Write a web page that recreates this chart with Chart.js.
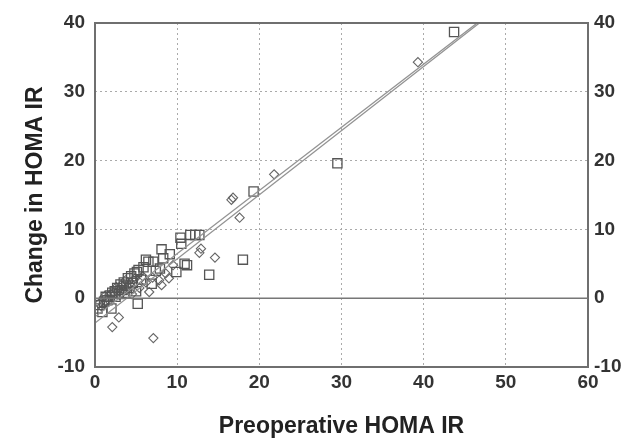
<!DOCTYPE html>
<html>
<head>
<meta charset="utf-8">
<script src="https://cdn.jsdelivr.net/npm/chart.js@4"></script>
<style>
  html, body { margin: 0; padding: 0; background: #fff; }
  #wrap { width: 625px; height: 441px; }
</style>
</head>
<body>
<div id="wrap"><canvas id="homaGraph"></canvas></div>
<script>
// data
const squareX = [0.3, 0.6, 0.9, 1.1, 1.3, 1.5, 1.8, 2.0, 2.1, 2.4, 2.5, 2.7, 2.9, 3.1, 3.3, 3.5, 3.6, 3.8, 4.0, 4.2, 4.4, 4.6, 4.8, 5.0, 5.1, 5.2, 5.3, 5.6, 5.9, 6.2, 6.5, 6.9, 7.1, 7.4, 7.9, 8.1, 8.3, 9.1, 9.9, 10.4, 10.5, 10.9, 11.2, 11.6, 12.2, 12.7, 13.9, 18.0, 19.3, 29.5, 43.7];
const squareY = [-1.5, -1.0, -2.0, -0.5, 0.2, -0.3, 0.4, -1.5, 0.8, 1.0, 0.2, 1.5, 0.6, 2.0, 1.2, 2.3, 0.8, 1.8, 2.9, 1.5, 3.2, 2.2, 3.6, 1.0, 3.8, -0.8, 4.1, 2.7, 4.5, 5.6, 5.3, 2.1, 5.3, 4.0, 4.3, 7.1, 5.8, 6.4, 3.8, 8.8, 7.9, 5.0, 4.8, 9.2, 9.2, 9.2, 3.4, 5.6, 15.5, 19.6, 38.7];
const diamondX = [0.5, 0.8, 1.2, 1.6, 1.9, 2.1, 2.3, 2.6, 2.9, 3.0, 3.2, 3.5, 3.7, 4.0, 4.3, 4.5, 4.9, 5.4, 5.8, 6.2, 6.6, 7.0, 7.1, 7.8, 8.1, 8.6, 9.0, 9.5, 12.7, 12.9, 14.6, 16.6, 16.8, 17.6, 21.8, 39.3];
const diamondY = [-0.8, -1.2, 0.3, -0.2, 0.6, -4.2, 0.9, 1.6, -2.8, 0.5, 1.9, 1.1, 2.6, 1.6, 2.2, 0.6, 2.9, 1.5, 3.2, 2.3, 0.9, 3.0, -5.8, 2.6, 1.9, 3.6, 2.9, 4.8, 6.6, 7.2, 5.9, 14.3, 14.6, 11.7, 18.0, 34.3];
// fitted lines, two end points each
const fitAX = [0, 50];
const fitAY = [-3.6, 43.0];
const fitBX = [0, 50];
const fitBY = [-2.7, 43.2];
const xTicks = [0, 10, 20, 30, 40, 50, 60];
const yTicks = [-10, 0, 10, 20, 30, 40];

function to_points(xs, ys) {
    return xs.map((x, i) => ({ x: x, y: ys[i] }));
}

// frame and zero line on top of the grid
const framePlugin = {
    id: 'frame',
    afterDatasetsDraw(chart) {
        const { ctx, chartArea, scales } = chart;
        ctx.save();
        ctx.strokeStyle = '#6f6f6f';
        ctx.lineWidth = 2;
        ctx.strokeRect(chartArea.left, chartArea.top, chartArea.right - chartArea.left, chartArea.bottom - chartArea.top);
        const y0 = scales.y.getPixelForValue(0);
        ctx.strokeStyle = '#777';
        ctx.lineWidth = 1.6;
        ctx.beginPath();
        ctx.moveTo(chartArea.left, y0);
        ctx.lineTo(chartArea.right, y0);
        ctx.stroke();
        ctx.restore();
    }
};

const tickFont = { family: 'Liberation Sans', size: 19, weight: 'bold' };
const titleFont = { family: 'Liberation Sans', size: 23, weight: 'bold' };

const config = {
    type: 'scatter',
    data: {
        datasets: [
            {
                type: 'line',
                data: to_points(fitAX, fitAY),
                borderColor: '#939393',
                borderWidth: 1.3,
                pointRadius: 0,
                fill: false
            },
            {
                type: 'line',
                data: to_points(fitBX, fitBY),
                borderColor: '#939393',
                borderWidth: 1.3,
                pointRadius: 0,
                fill: false
            },
            {
                data: to_points(squareX, squareY),
                pointStyle: 'rect',
                pointRadius: 6.5,
                borderColor: '#555',
                borderWidth: 1.3,
                backgroundColor: 'rgba(0,0,0,0)'
            },
            {
                data: to_points(diamondX, diamondY),
                pointStyle: 'rectRot',
                pointRadius: 4.6,
                borderColor: '#666',
                borderWidth: 1.1,
                backgroundColor: 'rgba(0,0,0,0)'
            }
        ]
    },
    options: {
        responsive: true,
        maintainAspectRatio: false,
        animation: false,
        layout: { padding: { top: 23, right: 0, left: 0, bottom: 0 } },
        plugins: { legend: { display: false }, tooltip: { enabled: false } },
        scales: {
            x: {
                type: 'linear',
                min: 0,
                max: 60,
                afterBuildTicks: (scale) => { scale.ticks = xTicks.map(v => ({ value: v })); },
                afterFit: (scale) => { scale.height = 74; },
                grid: { color: '#aaa', lineWidth: 1, drawTicks: false },
                border: { display: false, dash: [2, 3] },
                ticks: { font: tickFont, color: '#333', padding: 4, maxRotation: 0 },
                title: { display: true, text: 'Preoperative HOMA IR', font: titleFont, color: '#222', padding: { top: 0, bottom: 1 } }
            },
            y: {
                type: 'linear',
                position: 'left',
                min: -10,
                max: 40,
                afterBuildTicks: (scale) => { scale.ticks = yTicks.map(v => ({ value: v })); },
                afterFit: (scale) => { scale.width = 95; },
                grid: { color: '#aaa', lineWidth: 1, drawTicks: false },
                border: { display: false, dash: [2, 3] },
                ticks: { font: tickFont, color: '#333', padding: 10 },
                title: { display: true, text: 'Change in HOMA IR', font: titleFont, color: '#222', padding: { top: 22, bottom: 0 } }
            },
            y2: {
                type: 'linear',
                position: 'right',
                min: -10,
                max: 40,
                afterBuildTicks: (scale) => { scale.ticks = yTicks.map(v => ({ value: v })); },
                afterFit: (scale) => { scale.width = 37; },
                grid: { display: false, drawTicks: false },
                border: { display: false },
                ticks: { font: tickFont, color: '#333', padding: 6 }
            }
        }
    },
    plugins: [framePlugin]
};

const homaGraph = new Chart('homaGraph', config);
</script>
</body>
</html>
